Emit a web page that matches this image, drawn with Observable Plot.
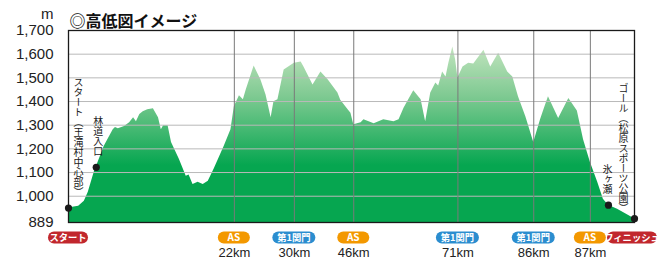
<!DOCTYPE html>
<html><head><meta charset="utf-8">
<script src="https://cdn.jsdelivr.net/npm/d3@7"></script>
<script src="https://cdn.jsdelivr.net/npm/@observablehq/plot@0.6"></script>
<style>
body{margin:0;background:#fff;}
#chart svg{overflow:visible;}
</style></head>
<body><div id="chart"></div>
<script>
// ---- data ----
const profilePos = [0,1.0,1.8,2.8,3.5,4.6,4.9,6.3,7.9,8.3,8.8,9.9,10.8,11.5,12.0,12.6,13.2,14.0,15.0,15.9,16.4,16.8,17.6,18.2,19.6,20.8,21.3,22.0,22.9,23.8,24.7,25.7,27.5,28.7,29.3,30.2,30.9,31.4,32.8,34.0,34.9,35.8,36.3,37.0,38.1,39.9,41.1,41.6,43.2,44.6,45.9,47.6,48.1,49.4,49.9,50.4,51.7,52.2,54.0,55.7,57.5,58.4,59.3,61.0,62.3,63.1,64.0,64.9,65.4,66.1,66.7,67.2,67.9,68.4,68.8,69.7,70.7,71.6,73.4,74.6,76.0,77.6,78.5,79.5,80.8,82.2,83.4,84.0,84.8,86.6,88.4,89.9,91.0,92.2,93.5,94.5,95.4,97.0,100];
const profileElev = [950,955,958,979,1017,1105,1122,1210,1281,1290,1285,1294,1310,1331,1315,1345,1357,1365,1369,1331,1281,1298,1298,1227,1155,1084,1090,1050,1059,1050,1063,1113,1210,1281,1378,1424,1407,1449,1550,1491,1428,1331,1399,1407,1533,1562,1567,1546,1470,1525,1491,1436,1405,1365,1350,1302,1310,1323,1306,1323,1315,1323,1373,1445,1407,1315,1436,1478,1466,1525,1504,1562,1630,1575,1499,1546,1562,1558,1617,1546,1604,1525,1504,1420,1336,1227,1323,1365,1420,1328,1413,1360,1239,1143,1059,987,962,945,905];

const yTicks = [889,1000,1100,1200,1300,1400,1500,1600,1700];
const gridTicks = [1000,1100,1200,1300,1400,1500,1600];

const checkpointPos  = [29.3, 39.9, 50.4, 68.8, 82.2, 92.2];
const checkpointKind = ["AS","第1関門","AS","第1関門","第1関門","AS"];
const checkpointKm   = ["22km","30km","46km","71km","86km","87km"];

const endPos   = [0, 100];
const endLabel = ["スタート","フィニッシュ"];

const placePos   = [0, 4.9, 95.4, 100];
const placeElev  = [950, 1122, 962, 905];
const placeNames = ["スタート（王滝村中心部）","林道入口","氷ヶ瀬","ゴール（松原スポーツ公園）"];

// ---- derived tables ----
const profile = profilePos.map((p,i)=>({pos:p, elev:profileElev[i]}));
const checkpoints = checkpointPos.map((p,i)=>({pos:p, kind:checkpointKind[i], km:checkpointKm[i]}));
const places = placePos.map((p,i)=>({pos:p, elev:placeElev[i], name:placeNames[i]}));
const badges = [
  ...endPos.map((p,i)=>({pos:p, label:endLabel[i]})),
  ...checkpoints.map(d=>({pos:d.pos, label:d.kind}))
];

// ---- styles ----
const badgeStyle = {
  "スタート":   {fill:"#c1272d", w:40, dx:0},
  "フィニッシュ": {fill:"#c1272d", w:50, dx:-2},
  "AS":        {fill:"#f39800", w:32, dx:0},
  "第1関門":    {fill:"#2b8dcf", w:43, dx:0}
};
// label placement offsets (px) relative to each place dot
const placeOffset = [ {dx:10, dy:-131}, {dx:2, dy:-51}, {dx:-1, dy:-41}, {dx:-11, dy:-136} ];

const SVGNS = "http://www.w3.org/2000/svg";
const JP = "'Noto Sans CJK JP','Noto Sans',sans-serif";
const LAT = "'Liberation Sans',Arial,'Noto Sans CJK JP',sans-serif";

function gradientMark(index, scales, values, dims, context) {
  const doc = (context && context.document) || document;
  const defs = doc.createElementNS(SVGNS, "defs");
  const y = scales.y;
  defs.innerHTML = `<linearGradient id="elevGrad" gradientUnits="userSpaceOnUse" x1="0" x2="0" y1="${y(1660)}" y2="${y(1130)}">
    <stop offset="0" stop-color="#cbe7c4"/>
    <stop offset="0.45" stop-color="#7fca92"/>
    <stop offset="1" stop-color="#06a650"/>
  </linearGradient>`;
  return defs;
}

function badgeMark(index, scales, values, dims, context) {
  const doc = (context && context.document) || document;
  const g = doc.createElementNS(SVGNS, "g");
  const yc = dims.height - dims.marginBottom + 15.5;
  badges.forEach(b => {
    const s = badgeStyle[b.label];
    const cx = scales.x(b.pos) + s.dx;
    const r = doc.createElementNS(SVGNS, "rect");
    r.setAttribute("x", cx - s.w/2);
    r.setAttribute("y", yc - 6);
    r.setAttribute("width", s.w);
    r.setAttribute("height", 12);
    r.setAttribute("rx", 6);
    r.setAttribute("fill", s.fill);
    g.appendChild(r);
    const t = doc.createElementNS(SVGNS, "text");
    t.setAttribute("x", cx);
    t.setAttribute("y", yc);
    t.setAttribute("dy", "0.35em");
    t.setAttribute("text-anchor", "middle");
    t.setAttribute("font-size", b.label === "AS" ? 10 : 9.3);
    t.setAttribute("font-weight", "bold");
    t.setAttribute("font-family", JP);
    t.setAttribute("fill", "#fff");
    t.textContent = b.label;
    g.appendChild(t);
  });
  return g;
}

const chart = Plot.plot({
  width: 665,
  height: 272,
  marginLeft: 68,
  marginRight: 31,
  marginTop: 30,
  marginBottom: 50,
  style: {fontFamily: LAT, fontSize: "15px", color: "#222", background: "#fff"},
  x: {domain: [0, 100], axis: null},
  y: {domain: [889, 1700], axis: null},
  marks: [
    gradientMark,
    Plot.areaY(profile, {x: "pos", y1: 889, y2: "elev", fill: "url(#elevGrad)", curve: "linear"}),
    Plot.ruleY(gridTicks, {stroke: "#b9b9b9", strokeWidth: 1}),
    Plot.ruleX(checkpoints, {x: "pos", stroke: "#7a7a7a", strokeWidth: 1}),
    Plot.frame({stroke: "#1a1a1a", strokeWidth: 1.3}),
    Plot.axisY({ticks: yTicks, tickFormat: d3.format(","), tickSize: 0, tickPadding: 15, fontSize: 15, fill: "#222", label: null}),
    Plot.text(["m"], {frameAnchor: "top-left", dx: -15, dy: -12, textAnchor: "end", lineAnchor: "bottom", fontSize: 15, fill: "#222"}),
    Plot.text(["◎高低図イメージ"], {frameAnchor: "top-left", dx: 1, dy: -4, textAnchor: "start", lineAnchor: "bottom", fontSize: 16, fontWeight: "bold", fontFamily: JP, fill: "#111"}),
    Plot.dot(places, {x: "pos", y: "elev", r: 3.6, fill: "#1a1a1a"}),
    ...places.map((p, i) => Plot.text([p], {
      x: "pos", y: "elev", text: "name", dx: placeOffset[i].dx, dy: placeOffset[i].dy,
      textAnchor: "start", lineAnchor: "bottom", fontSize: 10, fontFamily: JP, fill: "#1a1a1a",
      className: "vlabel"
    })),
    badgeMark,
    Plot.text(checkpoints, {x: "pos", text: "km", frameAnchor: "bottom", dy: 34, lineAnchor: "bottom", fontSize: 13, fill: "#222"})
  ]
});

// vertical Japanese writing for place names
chart.querySelectorAll(".vlabel text").forEach(t => {
  t.setAttribute("writing-mode", "vertical-rl");
  t.style.writingMode = "vertical-rl";
  t.removeAttribute("dy");
});

document.getElementById("chart").appendChild(chart);
</script>
</body></html>
